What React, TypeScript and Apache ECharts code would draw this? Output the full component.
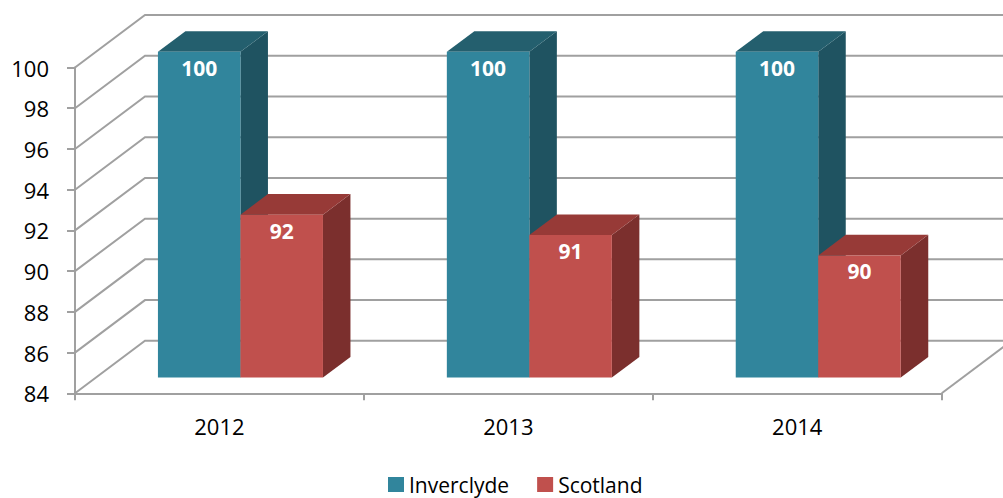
import React, { useEffect, useRef } from "react";
import * as echarts from "echarts";

const categories = ["2012", "2013", "2014"];
const inverclyde = [100, 100, 100];
const scotland = [92, 91, 90];
const yTicks = [84, 86, 88, 90, 92, 94, 96, 98, 100];
const seriesNames = ["Inverclyde", "Scotland"];

const FONT = "'Open Sans', 'Liberation Sans', sans-serif";
const DEPTH_X = 70;
const DEPTH_Y = -52.5;
const BAR_SHIFT_X = 21;
const BAR_SHIFT_Y = -15.7;
const BAR_DX = 27.5;
const BAR_DY = -20.6;
const GRID_COLOR = "#A0A0A0";

const palettes = [
  { front: "#31859C", top: "#245F6E", side: "#1F5361" },
  { front: "#C0504D", top: "#973A37", side: "#7B2F2D" },
];

export default function App() {
  const ref = useRef<HTMLDivElement>(null);
  useEffect(() => {
    if (!ref.current) return;
    const chart = echarts.init(ref.current, null, { renderer: "svg" });

    const wallSeries = {
      type: "custom",
      silent: true,
      z: 1,
      data: yTicks.map((v) => [0, v]),
      renderItem: (params: any, api: any) => {
        const cs = params.coordSys;
        const v = api.value(1);
        const p = api.coord([0, v]);
        const x0 = cs.x;
        const y = p[1];
        const children: any[] = [
          {
            type: "polyline",
            shape: {
              points: [
                [x0, y],
                [x0 + DEPTH_X, y + DEPTH_Y],
                [x0 + cs.width + DEPTH_X + 20, y + DEPTH_Y],
              ],
            },
            style: { stroke: GRID_COLOR, lineWidth: 2, fill: "none" },
          },
        ];
        if (v === yTicks[0]) {
          children.push({
            type: "line",
            shape: {
              x1: x0 + cs.width,
              y1: y,
              x2: x0 + cs.width + DEPTH_X,
              y2: y + DEPTH_Y,
            },
            style: { stroke: GRID_COLOR, lineWidth: 2 },
          });
        }
        return { type: "group", children };
      },
    };

    const makeBarSeries = (name: string, values: number[], idx: number) => ({
      type: "custom",
      name,
      z: 2 + idx,
      itemStyle: { color: palettes[idx].front },
      data: values.map((v, i) => [i, v]),
      renderItem: (params: any, api: any) => {
        const cat = api.value(0);
        const v = api.value(1);
        const base = api.coord([cat, yTicks[0]]);
        const top = api.coord([cat, v]);
        const band = api.size([1, 0])[0];
        const w = band * 0.2856;
        const left = base[0] + (idx === 0 ? -w : 0) + BAR_SHIFT_X;
        const y0 = base[1] + BAR_SHIFT_Y;
        const y1 = top[1] + BAR_SHIFT_Y;
        const pal = palettes[idx];
        return {
          type: "group",
          children: [
            {
              type: "polygon",
              shape: {
                points: [
                  [left + w, y1],
                  [left + w + BAR_DX, y1 + BAR_DY],
                  [left + w + BAR_DX, y0 + BAR_DY],
                  [left + w, y0],
                ],
              },
              style: { fill: pal.side },
            },
            {
              type: "polygon",
              shape: {
                points: [
                  [left, y1],
                  [left + BAR_DX, y1 + BAR_DY],
                  [left + w + BAR_DX, y1 + BAR_DY],
                  [left + w, y1],
                ],
              },
              style: { fill: pal.top },
            },
            {
              type: "rect",
              shape: { x: left, y: y1, width: w, height: y0 - y1 },
              style: { fill: pal.front },
            },
            {
              type: "text",
              style: {
                text: String(v),
                x: left + w / 2,
                y: y1 + 16,
                align: "center",
                verticalAlign: "middle",
                fill: "#FFFFFF",
                font: `bold 21px ${FONT}`,
              },
            },
          ],
        };
      },
    });

    chart.setOption({
      animation: false,
      backgroundColor: "#FFFFFF",
      grid: { left: 75, right: 61.3, top: 67.5, bottom: 104.7 },
      legend: {
        data: seriesNames,
        left: 383,
        top: 469,
        icon: "rect",
        itemWidth: 16,
        itemHeight: 15,
        itemGap: 28,
        selectedMode: false,
        textStyle: { fontFamily: FONT, fontSize: 21, color: "#000000" },
      },
      xAxis: {
        type: "category",
        data: categories,
        boundaryGap: true,
        axisLine: { show: true, lineStyle: { color: GRID_COLOR, width: 2 } },
        axisTick: { show: true, length: 7, lineStyle: { color: GRID_COLOR, width: 2 } },
        axisLabel: { margin: 22, fontFamily: FONT, fontSize: 22, color: "#000000" },
        splitLine: { show: false },
      },
      yAxis: {
        type: "value",
        min: 84,
        max: 100,
        interval: 2,
        axisLine: { show: true, lineStyle: { color: GRID_COLOR, width: 2 } },
        axisTick: { show: true, length: 8, lineStyle: { color: GRID_COLOR, width: 2 } },
        axisLabel: { margin: 26, fontFamily: FONT, fontSize: 22, color: "#000000" },
        splitLine: { show: false },
      },
      series: [
        wallSeries,
        makeBarSeries(seriesNames[0], inverclyde, 0),
        makeBarSeries(seriesNames[1], scotland, 1),
      ],
    });
    return () => chart.dispose();
  }, []);
  return (
    <div
      ref={ref}
      style={{ position: "fixed", left: 0, top: 0, width: 1003, height: 498 }}
    />
  );
}
